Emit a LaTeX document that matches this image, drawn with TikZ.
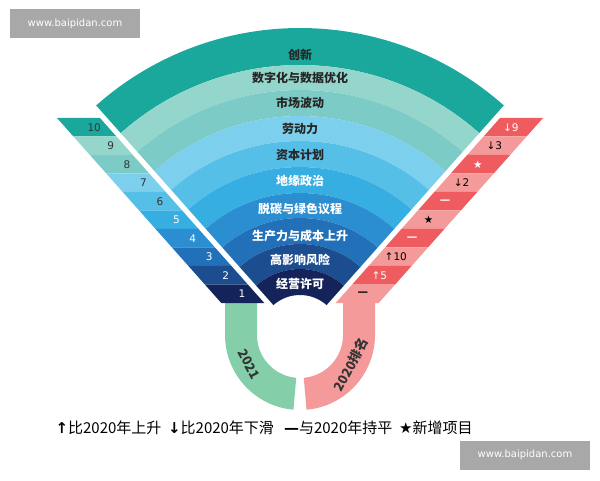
\documentclass[tikz,border=0pt]{standalone}
\usepackage{fontspec}
\setmainfont{Noto Sans CJK SC}
\newfontfamily\symf{DejaVu Sans}
\usetikzlibrary{calc}
\definecolor{b1}{HTML}{1AA89C}
\definecolor{b2}{HTML}{94D6CC}
\definecolor{b3}{HTML}{7DCBC6}
\definecolor{b4}{HTML}{7CD0EE}
\definecolor{b5}{HTML}{56BFE8}
\definecolor{b6}{HTML}{37AEE2}
\definecolor{b7}{HTML}{2A8ED0}
\definecolor{b8}{HTML}{2270B8}
\definecolor{b9}{HTML}{1C4D8E}
\definecolor{b10}{HTML}{14245A}
\definecolor{sred}{HTML}{EE5C60}
\definecolor{spink}{HTML}{F49A9A}
\definecolor{ringg}{HTML}{84CFAA}
\definecolor{wm}{HTML}{A8A8A8}
\tikzset{fanlbl/.style={font=\fontsize{12}{13}\selectfont\bfseries},
 cell/.style={font=\fontsize{10.5}{11}\selectfont\symf},
 wmark/.style={fill=wm,text=white,font=\fontsize{10}{12}\selectfont\symf,inner sep=0pt,minimum width=130pt,minimum height=29pt}}
\begin{document}
\begin{tikzpicture}[x=1pt,y=1pt]
\useasboundingbox (0,0) rectangle (600,480);
\coordinate (C) at (300,145);
% fan bands
\def\aL{131.6}\def\aR{48.4}
\foreach \rin/\rout/\col in {270/307/b1,245/270/b2,219/245/b3,194/219/b4,168/194/b5,142/168/b6,117/142/b7,91/117/b8,66/91/b9,40/66/b10}{
 \fill[\col] ($(C)+(\aR:\rout)$) arc[start angle=\aR,end angle=\aL,radius=\rout] -- ($(C)+(\aL:\rin)$) arc[start angle=\aL,end angle=\aR,radius=\rin] -- cycle;
}
% fan labels
\foreach \py/\t/\c in {55/创新/black!85,78/数字化与数据优化/black!85,103/市场波动/black!85,129/劳动力/black!85,155/资本计划/black!85,181/地缘政治/white,209/脱碳与绿色议程/white,236/生产力与成本上升/white,260/高影响风险/white,284/经营许可/white}{
 \node[fanlbl,text=\c] (L\py) at (300,480-\py) {\t};
}
% rings
\fill[ringg] (225,177) -- (225,145) arc[start angle=180,end angle=265,radius=75] -- ($(C)+(265:43)$) arc[start angle=265,end angle=180,radius=43] -- (257,177) -- cycle;
\fill[spink] (375,177) -- (375,145) arc[start angle=0,end angle=-85,radius=75] -- ($(C)+(-85:43)$) arc[start angle=-85,end angle=0,radius=43] -- (343,177) -- cycle;
\node[rotate=-62,inner sep=0pt,font=\fontsize{13}{13}\selectfont\bfseries,text=black!80] (y21) at ($(C)+(210:59)$) {2021};
\node[rotate=62,inner sep=0pt,font=\fontsize{13}{13}\selectfont\bfseries,text=black!80] (y20) at ($(C)+(-30:59)$) {2020排名};
% left strip
\def\k{0.888}
\foreach \i/\col/\num/\tc in {0/b1/10/black!80,1/b2/9/black!80,2/b3/8/black!80,3/b4/7/black!80,4/b5/6/black!80,5/b6/5/white,6/b7/4/white,7/b8/3/white,8/b9/2/white,9/b10/1/white}{
 \pgfmathsetmacro\yt{118+18.5*\i}\pgfmathsetmacro\yb{118+18.5*(\i+1)}
 \pgfmathsetmacro\xt{57+\k*(\yt-118)}\pgfmathsetmacro\xb{57+\k*(\yb-118)}
 \fill[\col] (\xt,480-\yt) -- (\xt+43,480-\yt) -- (\xb+43,480-\yb) -- (\xb,480-\yb) -- cycle;
 \node[cell,text=\tc] (l\i) at ({(\xt+\xb)/2+29},{480-(\yt+\yb)/2}) {\num};
}
% right strip
\foreach \i/\col/\sym/\tc in {0/sred/{↓9}/white,1/spink/{↓3}/black,2/sred/{★}/white,3/spink/{↓2}/black,4/sred/{\textbf{—}}/white,5/spink/{★}/black,6/sred/{\textbf{—}}/white,7/spink/{↑10}/black,8/sred/{↑5}/white,9/spink/{\textbf{—}}/black}{
 \pgfmathsetmacro\yt{118+18.5*\i}\pgfmathsetmacro\yb{118+18.5*(\i+1)}
 \pgfmathsetmacro\xt{543-\k*(\yt-118)}\pgfmathsetmacro\xb{543-\k*(\yb-118)}
 \fill[\col] (\xt,480-\yt) -- (\xt-43,480-\yt) -- (\xb-43,480-\yb) -- (\xb,480-\yb) -- cycle;
 \node[cell,text=\tc] (r\i) at ({(\xt+\xb)/2-24},{480-(\yt+\yb)/2}) {\sym};
}
% legend
\node[font=\fontsize{15}{16}\selectfont,anchor=west] (leg) at (52,52) {{\symf\textbf{↑}}比2020年上升\ \ {\symf\textbf{↓}}比2020年下滑\ \ \ {\symf\textbf{—}}与2020年持平\ \ {\symf★}新增项目};
% watermarks
\node[wmark] (w1) at (75,456) {www.baipidan.com};
\node[wmark] (w2) at (525,25) {www.baipidan.com};
\end{tikzpicture}
\end{document}
